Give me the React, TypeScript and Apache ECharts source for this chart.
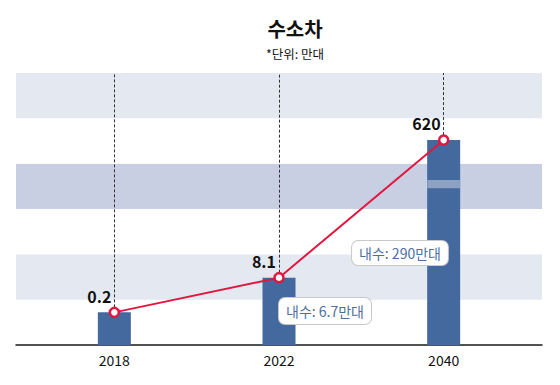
import React, { useEffect, useRef } from "react";
import * as echarts from "echarts";

// Data (만대)
const years = ["2018", "2022", "2040"];
const totals = [0.2, 8.1, 620];
// infographic bar heights, measured in background bands (not proportional to totals)
const drawnHeights = [0.72, 1.485, 4.52];
const domestic: (number | null)[] = [null, 6.7, 290];
// axis-break mark drawn across the 2040 bar (band units)
const breakMark = [[2, 3.46, 3.64]];
const bandColors = ["#ffffff", "#e4e9f1", "#ffffff", "#c9cfe2"];

const FONT = "'Noto Sans CJK KR', 'Noto Sans', sans-serif";

export default function App() {
  const ref = useRef<HTMLDivElement>(null);
  useEffect(() => {
    if (!ref.current) return;
    const chart = echarts.init(ref.current, undefined, { renderer: "svg" });
    const option: any = {
      animation: false,
      backgroundColor: "#ffffff",
      title: {
        text: "수소차",
        subtext: "*단위: 만대",
        left: 290,
        top: 13,
        textAlign: "center",
        itemGap: 9,
        textStyle: { fontFamily: FONT, fontSize: 20, fontWeight: "bold", color: "#111" },
        subtextStyle: { fontFamily: FONT, fontSize: 12.5, color: "#111" },
      },
      grid: [
        { left: 16, right: 18, top: 73, bottom: 40 },
        { left: 32, right: 34, top: 73, bottom: 40 },
      ],
      xAxis: [
        {
          gridIndex: 0,
          type: "category",
          data: years,
          axisLine: { show: true, lineStyle: { color: "#1a1a1a", width: 1.5 } },
          axisTick: { show: false },
          axisLabel: { show: false },
          splitLine: { show: false },
        },
        {
          gridIndex: 1,
          type: "category",
          data: years,
          axisLine: { show: false },
          axisTick: { show: false },
          axisLabel: { color: "#111", fontSize: 14, fontFamily: FONT, margin: 8 },
          splitLine: { show: false },
        },
      ],
      yAxis: [
        {
          gridIndex: 0,
          type: "value",
          min: 0,
          max: 6,
          interval: 1,
          axisLine: { show: false },
          axisTick: { show: false },
          axisLabel: { show: false },
          splitLine: { show: false },
          splitArea: { show: true, areaStyle: { color: bandColors } },
        },
        {
          gridIndex: 1,
          type: "value",
          min: 0,
          max: 6,
          interval: 1,
          show: false,
          splitLine: { show: false },
        },
      ],
      series: [
        {
          type: "bar",
          xAxisIndex: 1,
          yAxisIndex: 1,
          data: drawnHeights,
          barWidth: 33,
          itemStyle: { color: "#43699f" },
          z: 2,
        },
        {
          type: "custom",
          xAxisIndex: 1,
          yAxisIndex: 1,
          data: breakMark,
          z: 3,
          renderItem: (params: any, api: any) => {
            const lo = api.coord([api.value(0), api.value(1)]);
            const hi = api.coord([api.value(0), api.value(2)]);
            return {
              type: "rect",
              shape: { x: lo[0] - 16.5, y: hi[1], width: 33, height: lo[1] - hi[1] },
              style: { fill: "#8da1c2" },
            };
          },
        },
        {
          type: "line",
          xAxisIndex: 1,
          yAxisIndex: 1,
          data: drawnHeights,
          z: 5,
          lineStyle: { color: "#e2173f", width: 2 },
          symbol: "circle",
          symbolSize: 9,
          itemStyle: { color: "#ffffff", borderColor: "#e2173f", borderWidth: 2.5 },
          label: {
            show: true,
            position: "top",
            align: "right",
            offset: [-3, 2],
            formatter: (p: any) => String(totals[p.dataIndex]),
            fontFamily: FONT,
            fontSize: 16,
            fontWeight: "bold",
            color: "#111",
          },
          markLine: {
            silent: true,
            symbol: ["none", "none"],
            label: { show: false },
            lineStyle: { type: [3, 2], color: "#333", width: 1 },
            data: years.map((y, i) => [
              { coord: [y, drawnHeights[i]] },
              { coord: [y, 6] },
            ]),
          },
        },
      ],
      graphic: [
        {
          type: "text",
          x: 325,
          y: 311,
          z: 10,
          style: {
            text: `내수: ${domestic[1]}만대`,
            fill: "#4f6f9f",
            font: `14px ${FONT}`,
            align: "center",
            verticalAlign: "middle",
            backgroundColor: "#ffffff",
            borderColor: "#c8c8c8",
            borderWidth: 1,
            borderRadius: 6,
            padding: [6, 7],
          },
        },
        {
          type: "text",
          x: 400,
          y: 253,
          z: 10,
          style: {
            text: `내수: ${domestic[2]}만대`,
            fill: "#4f6f9f",
            font: `14px ${FONT}`,
            align: "center",
            verticalAlign: "middle",
            backgroundColor: "#ffffff",
            borderColor: "#c8c8c8",
            borderWidth: 1,
            borderRadius: 6,
            padding: [5, 7],
          },
        },
      ],
    };
    chart.setOption(option);
    return () => chart.dispose();
  }, []);
  return (
    <div
      ref={ref}
      style={{ position: "fixed", left: 0, top: 0, width: 560, height: 385 }}
    />
  );
}
